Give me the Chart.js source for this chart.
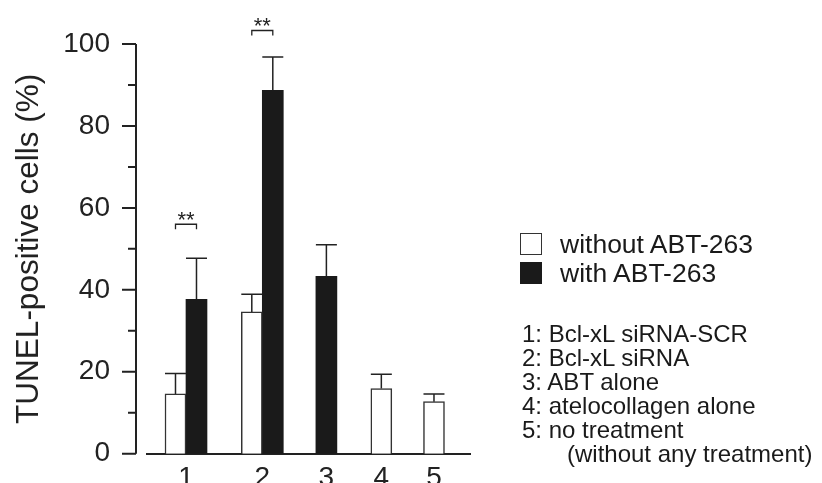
<!DOCTYPE html>
<html>
<head>
<meta charset="utf-8">
<script src="https://cdn.jsdelivr.net/npm/chart.js@4/dist/chart.umd.min.js"></script>
<style>
    body { margin: 0; background: #fff; }
    #wrap { position: relative; width: 822px; height: 483px; font-family: "Liberation Sans", Arial, sans-serif; color: #1a1a1a; }
    #tunelChart { position: absolute; left: 0; top: 0; }
    .key { position: absolute; left: 520px; width: 22px; height: 22px; box-sizing: border-box; border: 1.5px solid #333; }
    .keyText { position: absolute; left: 560px; font-size: 26.5px; line-height: 29px; white-space: nowrap; }
    #groups { position: absolute; left: 522px; top: 322px; font-size: 24px; line-height: 24px; white-space: nowrap; }
</style>
</head>
<body>
<div id="wrap">
    <canvas id="tunelChart" width="822" height="483"></canvas>
    <div class="key" style="top:233px;background:#fff"></div>
    <div class="keyText" style="top:229.5px">without ABT-263</div>
    <div class="key" style="top:262px;background:#1a1a1a;border-color:#1a1a1a"></div>
    <div class="keyText" style="top:258.5px">with ABT-263</div>
    <div id="groups">
        <div>1: Bcl-xL siRNA-SCR</div>
        <div>2: Bcl-xL siRNA</div>
        <div>3: ABT alone</div>
        <div>4: atelocollagen alone</div>
        <div>5: no treatment</div>
        <div style="padding-left:45px">(without any treatment)</div>
    </div>
</div>
<script>
// Số liệu
const groupLabels = ['1', '2', '3', '4', '5'];
const groupPos = [1, 2, 2.84, 3.56, 4.25];
const withoutMean = [14.6, 34.6, null, 15.9, 12.7];
const withoutErr = [5.0, 4.3, null, 3.5, 1.9];
const withMean = [37.7, 88.7, 43.3, null, null];
const withErr = [10.0, 8.1, 7.7, null, null];
const yTicks = [0, 20, 40, 60, 80, 100];
const yMinorTicks = [10, 30, 50, 70, 90];
const sigGroups = [0, 1];
const sigLevel = [56, 103.3];
const sigLabel = ['**', '**'];

const FONT = '"Liberation Sans", Arial, sans-serif';
const INK = '#222';

function toPoints(values) {
    return values.map(function (v, i) {
        return { x: groupPos[i], y: v };
    });
}

// Trục Y, vạch chia, thanh sai số và dấu **
const extrasPlugin = {
    id: 'extras',
    afterDatasetsDraw: function (chart) {
        const ctx = chart.ctx;
        const yScale = chart.scales.y;
        ctx.save();
        ctx.strokeStyle = INK;
        ctx.lineWidth = 1.5;

        // error bars
        chart.data.datasets.forEach(function (ds, di) {
            const meta = chart.getDatasetMeta(di);
            meta.data.forEach(function (bar, i) {
                const m = ds.data[i].y;
                if (m === null) return;
                const top = yScale.getPixelForValue(m + ds.errors[i]);
                const half = bar.width / 2;
                ctx.beginPath();
                ctx.moveTo(bar.x, bar.y);
                ctx.lineTo(bar.x, top);
                ctx.moveTo(bar.x - half, top);
                ctx.lineTo(bar.x + half, top);
                ctx.stroke();
            });
        });

        // significance brackets
        const m0 = chart.getDatasetMeta(0);
        const m1 = chart.getDatasetMeta(1);
        ctx.lineWidth = 1.3;
        ctx.fillStyle = INK;
        ctx.font = '22px ' + FONT;
        ctx.textAlign = 'center';
        ctx.textBaseline = 'alphabetic';
        sigGroups.forEach(function (g, k) {
            const x1 = m0.data[g].x;
            const x2 = m1.data[g].x;
            const yy = yScale.getPixelForValue(sigLevel[k]);
            ctx.beginPath();
            ctx.moveTo(x1, yy + 5);
            ctx.lineTo(x1, yy);
            ctx.lineTo(x2, yy);
            ctx.lineTo(x2, yy + 5);
            ctx.stroke();
            ctx.fillText(sigLabel[k], (x1 + x2) / 2, yy + 3);
        });

        // y axis line with major / minor ticks
        const ax = chart.chartArea.left - 11;
        ctx.lineWidth = 2;
        ctx.beginPath();
        ctx.moveTo(ax, yScale.getPixelForValue(100));
        ctx.lineTo(ax, yScale.getPixelForValue(0));
        yTicks.forEach(function (v) {
            const p = yScale.getPixelForValue(v);
            ctx.moveTo(ax - 14, p);
            ctx.lineTo(ax, p);
        });
        yMinorTicks.forEach(function (v) {
            const p = yScale.getPixelForValue(v);
            ctx.moveTo(ax - 8, p);
            ctx.lineTo(ax, p);
        });
        ctx.stroke();
        ctx.restore();
    }
};

const ctx = document.getElementById('tunelChart').getContext('2d');
new Chart(ctx, {
    type: 'bar',
    data: {
        datasets: [{
            label: 'without ABT-263',
            data: toPoints(withoutMean),
            errors: withoutErr,
            backgroundColor: '#ffffff',
            borderColor: '#333333',
            borderWidth: 1.5
        }, {
            label: 'with ABT-263',
            data: toPoints(withMean),
            errors: withErr,
            backgroundColor: '#1a1a1a',
            borderColor: '#1a1a1a',
            borderWidth: 0
        }]
    },
    options: {
        responsive: false,
        animation: false,
        skipNull: true,
        barThickness: 21,
        layout: { padding: { left: 0, top: 44, right: 352, bottom: 0 } },
        plugins: {
            legend: { display: false },
            tooltip: { enabled: false }
        },
        scales: {
            x: {
                type: 'linear',
                min: 0.489,
                max: 4.722,
                offset: false,
                afterBuildTicks: function (scale) {
                    scale.ticks = groupPos.map(function (v) { return { value: v }; });
                },
                afterFit: function (scale) { scale.height = 29.3; },
                grid: { display: false, drawTicks: false },
                border: { display: true, color: INK, width: 2 },
                ticks: {
                    padding: 8,
                    color: INK,
                    font: { family: FONT, size: 28 },
                    callback: function (value, index) { return groupLabels[index]; }
                }
            },
            y: {
                min: 0,
                max: 100,
                afterBuildTicks: function (scale) {
                    scale.ticks = yTicks.map(function (v) { return { value: v }; });
                },
                afterFit: function (scale) { scale.width = 147; },
                grid: { display: false, drawTicks: true, tickLength: 30 },
                border: { display: false },
                ticks: {
                    padding: 7,
                    color: INK,
                    font: { family: FONT, size: 28 }
                },
                title: {
                    display: true,
                    text: 'TUNEL-positive cells (%)',
                    color: INK,
                    padding: { top: 10, bottom: 0 },
                    font: { family: FONT, size: 31.5 }
                }
            }
        }
    },
    plugins: [extrasPlugin]
});
</script>
</body>
</html>
